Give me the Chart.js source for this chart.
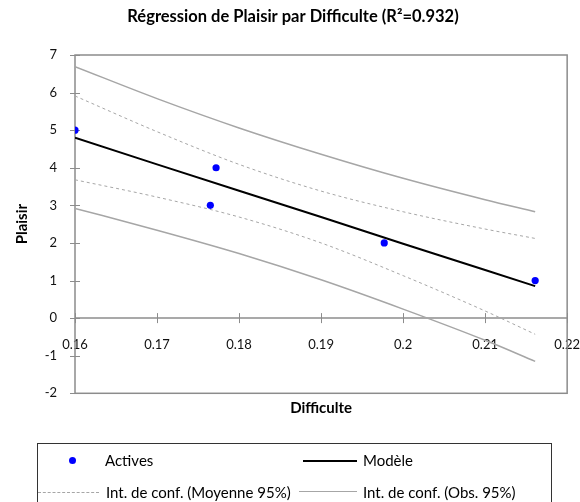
<!DOCTYPE html>
<html>
<head>
<meta charset="utf-8">
<script src="https://cdn.jsdelivr.net/npm/chart.js@4/dist/chart.umd.min.js"></script>
<style>
  html, body { margin: 0; padding: 0; background: #fff; }
  #wrap { position: relative; width: 580px; height: 502px; overflow: hidden; font-family: Lato, 'Open Sans', sans-serif; }
  #c { position: absolute; left: 0; top: 0; }
  #legend { position: absolute; left: 37px; top: 443px; width: 515px; height: 80px; border: 1.5px solid #333; box-sizing: border-box; }
  .lg { position: absolute; font-size: 15px; color: #000; line-height: 17px; white-space: nowrap; }
  .sw { position: absolute; height: 0; }
</style>
</head>
<body>
<div id="wrap">
  <canvas id="c" width="580" height="502"></canvas>
  <div id="legend">
    <div class="sw" style="left:31px;top:13px;width:7px;height:7px;border-radius:50%;background:#0000FF;"></div>
    <div class="lg" style="left:67px;top:8px;">Actives</div>
    <div class="sw" style="left:265px;top:15.5px;width:54px;border-top:2px solid #000;"></div>
    <div class="lg" style="left:325px;top:8px;">Modèle</div>
    <div class="sw" style="left:0px;top:47.5px;width:61px;border-top:1px dashed #A6A6A6;"></div>
    <div class="lg" style="left:68px;top:40px;">Int. de conf. (Moyenne 95%)</div>
    <div class="sw" style="left:261px;top:47px;width:58px;border-top:1.5px solid #A6A6A6;"></div>
    <div class="lg" style="left:325px;top:40px;">Int. de conf. (Obs. 95%)</div>
  </div>
</div>
<script>
// ---- data ----
const activesX = [0.16, 0.1765, 0.1772, 0.1977, 0.2161];
const activesY = [5, 3, 4, 2, 1];

const curveX  = [0.16, 0.17, 0.18, 0.19, 0.20, 0.21, 0.2161];
const modelY  = [4.80, 4.09, 3.39, 2.69, 1.98, 1.28, 0.85];
const meanUpY = [5.91, 4.96, 4.09, 3.38, 2.83, 2.37, 2.12];
const meanLoY = [3.68, 3.22, 2.69, 2.00, 1.13, 0.19, -0.43];
const obsUpY  = [6.69, 5.84, 5.06, 4.36, 3.72, 3.15, 2.83];
const obsLoY  = [2.92, 2.34, 1.72, 1.02, 0.24, -0.59, -1.15];

const xTickLabels = ['0.16', '0.17', '0.18', '0.19', '0.2', '0.21', '0.22'];
const yTickLabels = ['-2', '-1', '0', '1', '2', '3', '4', '5', '6', '7'];

const titleText = 'Régression de Plaisir par Difficulte (R²=0.932)';
const xTitle = 'Difficulte';
const yTitle = 'Plaisir';

// ---- build ----
const pts = (xs, ys) => xs.map((x, i) => ({ x: x, y: ys[i] }));
const gray = '#A6A6A6';
const axisGray = '#8C8C8C';

const framePlugin = {
  id: 'frame',
  beforeDatasetsDraw(chart) {
    const { ctx, chartArea: a, scales } = chart;
    ctx.save();
    ctx.strokeStyle = axisGray;
    ctx.lineWidth = 1.5;
    ctx.strokeRect(a.left, a.top, a.right - a.left, a.bottom - a.top);
    const y0 = scales.y.getPixelForValue(0);
    ctx.beginPath();
    ctx.moveTo(a.left, y0); ctx.lineTo(a.right, y0);
    ctx.stroke();
    ctx.lineWidth = 1;
    ctx.beginPath();
    scales.x.ticks.forEach(t => {
      const px = Math.round(scales.x.getPixelForValue(t.value)) + 0.5;
      ctx.moveTo(px, y0 - 5); ctx.lineTo(px, y0 + 5);
    });
    scales.y.ticks.forEach(t => {
      const py = Math.round(scales.y.getPixelForValue(t.value)) + 0.5;
      ctx.moveTo(a.left - 5, py); ctx.lineTo(a.left + 5, py);
    });
    ctx.stroke();
    ctx.restore();
  }
};

Chart.defaults.font.family = 'Lato, "Open Sans", sans-serif';
Chart.defaults.color = '#000';

new Chart(document.getElementById('c'), {
  type: 'scatter',
  data: {
    datasets: [
      { label: 'Actives', data: pts(activesX, activesY), backgroundColor: '#0000FF', borderColor: '#0000FF',
        pointRadius: 3.6, pointBorderWidth: 0, showLine: false },
      { label: 'Modèle', data: pts(curveX, modelY), showLine: true, borderColor: '#000', borderWidth: 2,
        pointRadius: 0, fill: false },
      { label: 'Int. de conf. (Moyenne 95%)', data: pts(curveX, meanUpY), showLine: true, borderColor: gray,
        borderWidth: 1, borderDash: [3, 3], pointRadius: 0, cubicInterpolationMode: 'monotone' },
      { label: 'Int. de conf. (Moyenne 95%) ', data: pts(curveX, meanLoY), showLine: true, borderColor: gray,
        borderWidth: 1, borderDash: [3, 3], pointRadius: 0, cubicInterpolationMode: 'monotone' },
      { label: 'Int. de conf. (Obs. 95%)', data: pts(curveX, obsUpY), showLine: true, borderColor: gray,
        borderWidth: 1.5, pointRadius: 0, cubicInterpolationMode: 'monotone' },
      { label: 'Int. de conf. (Obs. 95%) ', data: pts(curveX, obsLoY), showLine: true, borderColor: gray,
        borderWidth: 1.5, pointRadius: 0, cubicInterpolationMode: 'monotone' }
    ]
  },
  options: {
    responsive: false,
    animation: false,
    layout: { padding: { left: 13, right: 7, top: 0, bottom: 108.7 } },
    plugins: {
      legend: { display: false },
      tooltip: { enabled: false },
      title: {
        display: true, text: titleText, color: '#000',
        font: { size: 16.5, weight: 'bold' },
        padding: { top: 7, bottom: 28.2 }
      }
    },
    scales: {
      x: {
        type: 'linear', position: { y: 0 }, min: 0.16, max: 0.22,
        afterBuildTicks: s => { s.ticks = xTickLabels.map(v => ({ value: parseFloat(v) })); },
        ticks: { padding: 0, font: { size: 13 }, color: '#111', maxRotation: 0,
          callback: (v, i) => xTickLabels[i] },
        grid: { display: true, drawOnChartArea: false, drawTicks: true, tickLength: 19, tickColor: 'transparent' },
        border: { display: false },
        title: { display: true, text: xTitle, font: { size: 15, weight: 'bold' }, color: '#000', padding: 0 },
        afterFit: s => { s.height = 99; }
      },
      y: {
        type: 'linear', position: 'left', min: -2, max: 7,
        afterBuildTicks: s => { s.ticks = yTickLabels.map(v => ({ value: parseFloat(v) })); },
        ticks: { padding: 8, font: { size: 13 }, color: '#111', callback: (v, i) => yTickLabels[i] },
        grid: { display: true, drawOnChartArea: false, drawTicks: true, tickLength: 10, tickColor: 'transparent' },
        border: { display: false },
        title: { display: true, text: yTitle, font: { size: 15, weight: 'bold' }, color: '#000', padding: 0 },
        afterFit: s => { s.width = 62; }
      }
    }
  },
  plugins: [framePlugin]
});
</script>
</body>
</html>
